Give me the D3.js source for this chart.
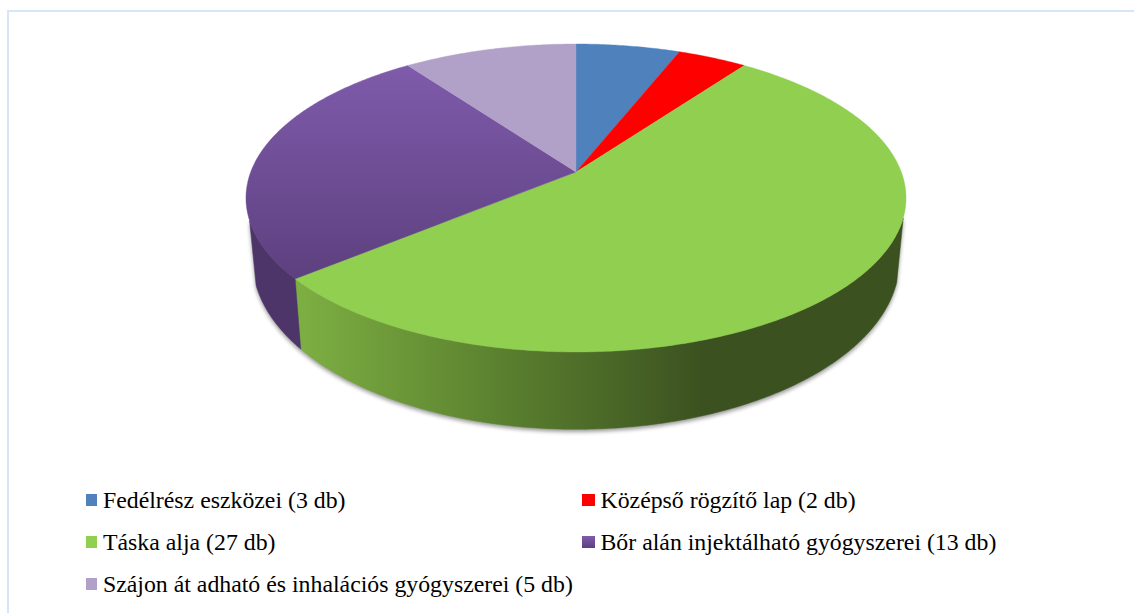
<!DOCTYPE html>
<html><head><meta charset="utf-8">
<script src="https://cdn.jsdelivr.net/npm/d3@7"></script>
<style>html,body{margin:0;padding:0;background:#fff;overflow:hidden}svg{display:block}text{font-family:"Liberation Serif",serif;font-size:23.8px;fill:#000}</style>
</head><body><svg id="c" width="1134" height="613"></svg>
<script>
const categories=["Fedélrész eszközei (3 db)","Középső rögzítő lap (2 db)","Táska alja (27 db)","Bőr alán injektálható gyógyszerei (13 db)","Szájon át adható és inhalációs gyógyszerei (5 db)"];
const values=[3,2,27,13,5];
const colors=["#4f81bd","#ff0000","#90cf50","#7d5aa6","#b1a0c7"];
const legendX=[86,582,86,582,86];
const legendY=[508,508,550,550,592];

const W=1134,H=613;
const svg=d3.select("#c");
const defs=svg.append("defs");
const cx=576,cy=172,R=325.3,S=149.6,k=0.1688;
const sxB=0.98,syB=1.096,dB=60;
// perspective projection of a point of the unit disc at angle a
const proj=(a,sx=1,sy=1,d=0)=>{const w=1+k*Math.cos(a);
  return [cx+sx*R*Math.sin(a)/w, cy+d-sy*S*Math.cos(a)/w];};
const slices=d3.pie().sort(null).value(d=>d)(values);
const line=d3.line();
const arcPts=(a0,a1,sx,sy,d)=>{const n=Math.max(2,Math.ceil(Math.abs(a1-a0)/0.01));
  return d3.range(n+1).map(i=>proj(a0+(a1-a0)*i/n,sx,sy,d));};
const visA=107*Math.PI/180, leftSil=252*Math.PI/180; // ends of the visible rim

// frame
svg.append("rect").attr("width",W).attr("height",H).attr("fill","#fff");
svg.append("rect").attr("x",7).attr("y",10).attr("width",W-7).attr("height",2).attr("fill","#d6e5f8");
svg.append("rect").attr("x",7).attr("y",10).attr("width",2).attr("height",H-10).attr("fill","#d6e5f8");

// gradients
const gSide=defs.append("linearGradient").attr("id","gSide").attr("gradientUnits","userSpaceOnUse")
  .attr("x1",293).attr("x2",705).attr("y1",0).attr("y2",0);
gSide.append("stop").attr("offset",0).attr("stop-color","#7eb043");
gSide.append("stop").attr("offset",0.5).attr("stop-color","#5b812f");
gSide.append("stop").attr("offset",1).attr("stop-color","#3b5120");
const gPurple=defs.append("linearGradient").attr("id","gPurple").attr("gradientUnits","userSpaceOnUse")
  .attr("x1",0).attr("x2",0).attr("y1",65).attr("y2",280);
gPurple.append("stop").attr("offset",0).attr("stop-color","#7f5bab");
gPurple.append("stop").attr("offset",1).attr("stop-color","#5d407f");
const gLeg=defs.append("linearGradient").attr("id","gLeg").attr("x1",0).attr("x2",0).attr("y1",0).attr("y2",1);
gLeg.append("stop").attr("offset",0).attr("stop-color","#7f5bab");
gLeg.append("stop").attr("offset",1).attr("stop-color","#5d407f");
const blur=defs.append("filter").attr("id","blur").attr("x","-5%").attr("y","-5%").attr("width","110%").attr("height","115%");
blur.append("feGaussianBlur").attr("stdDeviation",2.2);

const fills=[colors[0],colors[1],colors[2],"url(#gPurple)",colors[4]];
const sideFills=[null,null,"url(#gSide)","#4e3569",null];

// shadow under the body
svg.append("path").attr("d",line(arcPts(visA,leftSil,sxB,syB,dB))+"L"+proj(leftSil).join(",")+"L"+proj(visA).join(",")+"Z")
  .attr("fill","#000").attr("opacity",0.42).attr("filter","url(#blur)").attr("transform","translate(0,2.5)");

// sides
const g=svg.append("g");
slices.forEach((s,i)=>{
  if(!sideFills[i])return;
  const a0=Math.max(s.startAngle,visA),a1=Math.min(s.endAngle,leftSil);
  if(a1<=a0)return;
  const top=arcPts(a0,a1,1,1,0),bot=arcPts(a1,a0,sxB,syB,dB);
  g.append("path").attr("d",line(top.concat(bot))+"Z").attr("fill",sideFills[i]).attr("stroke",sideFills[i]).attr("stroke-width",0.5);
});
// top face
slices.forEach((s,i)=>{
  const pts=[[cx,cy]].concat(arcPts(s.startAngle,s.endAngle,1,1,0));
  g.append("path").attr("d",line(pts)+"Z").attr("fill",fills[i]).attr("stroke",fills[i]).attr("stroke-width",0.4);
});

// legend
const lg=svg.selectAll("g.leg").data(categories).join("g").attr("class","leg")
  .attr("transform",(d,i)=>`translate(${legendX[i]},${legendY[i]})`);
lg.append("rect").attr("x",0).attr("y",-14).attr("width",(d,i)=>legendX[i]>300?13:11).attr("height",12)
  .attr("fill",(d,i)=>i===3?"url(#gLeg)":colors[i]);
lg.append("text").attr("x",(d,i)=>legendX[i]>300?18.5:17).attr("y",0).text(d=>d);
</script></body></html>
